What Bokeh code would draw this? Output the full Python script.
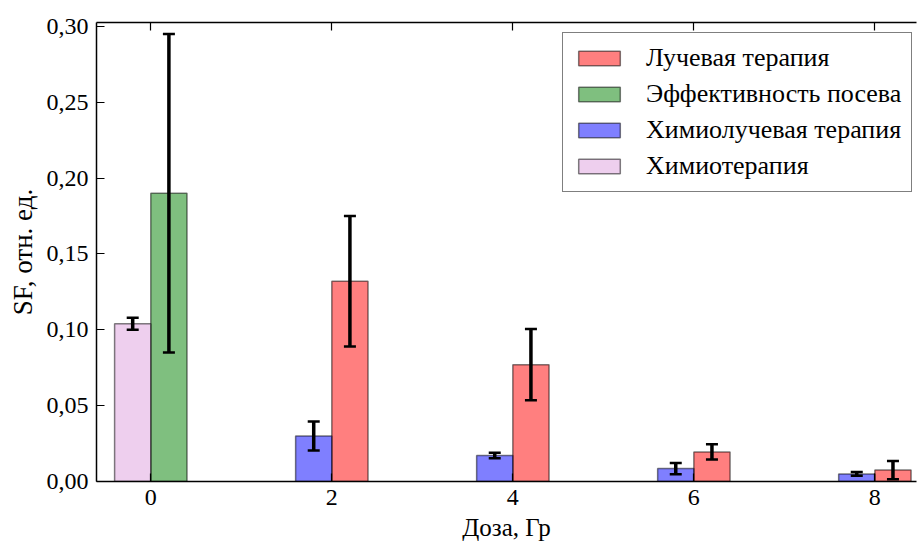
from bokeh.plotting import figure
from bokeh.models import (ColumnDataSource, Range1d, FixedTicker, LinearAxis, Legend, LegendItem,
                          Whisker, TeeHead, CustomJSTickFormatter)
from bokeh.embed import file_html
from bokeh.resources import INLINE

# ---- data ----
doses_rt = [2, 4, 6, 8]
radiotherapy = [0.132, 0.077, 0.0195, 0.0075]          # Лучевая терапия
radiotherapy_err = [0.043, 0.0235, 0.005, 0.006]
chemoradio = [0.030, 0.0172, 0.0085, 0.005]            # Химиолучевая терапия
chemoradio_err = [0.0095, 0.0018, 0.0037, 0.0012]
doses_0 = [0]
plating = [0.19]                                       # Эффективность посева
plating_err = [0.105]
chemo = [0.104]                                        # Химиотерапия
chemo_err = [0.004]

x_ticks = [0, 2, 4, 6, 8]
y_ticks = [0.0, 0.05, 0.10, 0.15, 0.20, 0.25, 0.30]

labels = ["Лучевая терапия", "Эффективность посева", "Химиолучевая терапия", "Химиотерапия"]

BAR_W = 0.4
FONT = "Liberation Serif"


def make_src(doses, vals, errs, side):
    xs = [d + side * BAR_W / 2 for d in doses]
    return ColumnDataSource(dict(
        x=xs, top=vals,
        upper=[v + e for v, e in zip(vals, errs)],
        lower=[v - e for v, e in zip(vals, errs)],
    ))


src_rt = make_src(doses_rt, radiotherapy, radiotherapy_err, +1)
src_crt = make_src(doses_rt, chemoradio, chemoradio_err, -1)
src_pl = make_src(doses_0, plating, plating_err, +1)
src_ch = make_src(doses_0, chemo, chemo_err, -1)

p = figure(width=917, height=544, x_range=Range1d(-0.6, 8.46), y_range=Range1d(0, 0.3026),
           output_backend="svg", toolbar_location=None,
           min_border_left=96, min_border_right=1, min_border_top=22, min_border_bottom=63)

p.xgrid.visible = False
p.ygrid.visible = False
p.outline_line_color = None
p.background_fill_color = "white"

bar_kw = dict(width=BAR_W, fill_alpha=0.5, line_color="black", line_alpha=0.5, line_width=1.5)
r_rt = p.vbar(x="x", top="top", bottom=0, source=src_rt, fill_color="red", **bar_kw)
r_pl = p.vbar(x="x", top="top", bottom=0, source=src_pl, fill_color="green", **bar_kw)
r_crt = p.vbar(x="x", top="top", bottom=0, source=src_crt, fill_color="blue", **bar_kw)
r_ch = p.vbar(x="x", top="top", bottom=0, source=src_ch, fill_color="plum", **bar_kw)

for s in (src_rt, src_pl, src_crt, src_ch):
    w = Whisker(source=s, base="x", upper="upper", lower="lower", dimension="height",
                line_color="black", line_width=3.5, level="overlay",
                upper_head=TeeHead(size=12, line_width=2.5, line_color="black"),
                lower_head=TeeHead(size=12, line_width=2.5, line_color="black"))
    p.add_layout(w)

fmt = CustomJSTickFormatter(code="return tick.toFixed(2).replace('.', ',');")


def style_axis(ax):
    ax.axis_line_color = "black"
    ax.axis_line_width = 1.5
    ax.major_tick_in = 8
    ax.major_tick_out = 0
    ax.major_tick_line_color = "black"
    ax.major_tick_line_width = 1.2
    ax.minor_tick_line_color = None
    ax.major_label_text_font = FONT
    ax.major_label_text_font_size = "24px"
    ax.major_label_text_color = "black"
    ax.axis_label_text_font = FONT
    ax.axis_label_text_font_size = "25px"
    ax.axis_label_text_font_style = "normal"
    ax.axis_label_text_color = "black"


xa = p.xaxis[0]
style_axis(xa)
xa.ticker = FixedTicker(ticks=x_ticks)
xa.axis_label = "Доза, Гр"
xa.major_label_standoff = 8
xa.axis_label_standoff = 6

ya = p.yaxis[0]
style_axis(ya)
ya.ticker = FixedTicker(ticks=y_ticks)
ya.formatter = fmt
ya.axis_label = "SF, отн. ед."
ya.axis_label_text_font_size = "27px"
ya.major_label_standoff = 8
ya.axis_label_standoff = 6

top_ax = LinearAxis(ticker=FixedTicker(ticks=x_ticks))
style_axis(top_ax)
top_ax.major_label_text_font_size = "0px"
top_ax.major_label_standoff = 0
top_ax.major_label_text_alpha = 0
p.add_layout(top_ax, "above")

legend = Legend(items=[LegendItem(label=labels[0], renderers=[r_rt]),
                       LegendItem(label=labels[1], renderers=[r_pl]),
                       LegendItem(label=labels[2], renderers=[r_crt]),
                       LegendItem(label=labels[3], renderers=[r_ch])],
                location=(466, 289))
legend.border_line_color = "black"
legend.border_line_width = 1.5
legend.background_fill_color = "white"
legend.background_fill_alpha = 1
legend.label_text_font = FONT
legend.label_text_font_size = "26px"
legend.label_text_color = "black"
legend.glyph_width = 52
legend.glyph_height = 18
legend.label_height = 30
legend.label_standoff = 21
legend.padding = 10
legend.spacing = 6
legend.margin = 0
p.add_layout(legend, "center")

open("out.html", "w").write(file_html(p, INLINE))
